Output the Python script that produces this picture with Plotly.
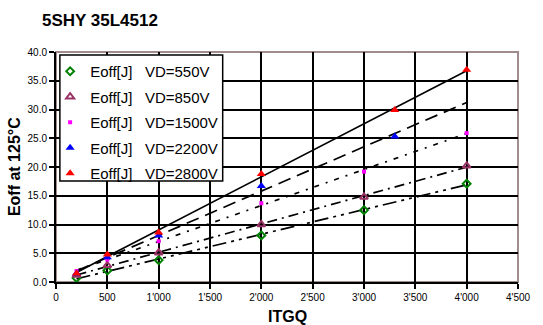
import numpy as np
import plotly.graph_objects as go

x_itgq = [200, 500, 1000, 2000, 3000, 4000]
x_2200 = [200, 500, 1000, 2000, 3300]
x_2800 = [200, 500, 1000, 2000, 3300, 4000]

e_550 = [0.7, 2.0, 3.8, 8.1, 12.5, 17.1]
e_850 = [1.2, 2.9, 5.1, 10.0, 14.8, 20.2]
e_1500 = [1.9, 3.9, 7.1, 13.7, 19.2, 25.9]
e_2200 = [1.5, 4.3, 8.1, 16.7, 25.3]
e_2800 = [1.5, 4.8, 8.6, 18.8, 29.9, 36.9]

names = ["Eoff[J]\u00a0\u00a0\u00a0VD=550V", "Eoff[J]\u00a0\u00a0\u00a0VD=850V",
         "Eoff[J]\u00a0\u00a0\u00a0VD=1500V", "Eoff[J]\u00a0\u00a0\u00a0VD=2200V",
         "Eoff[J]\u00a0\u00a0\u00a0VD=2800V"]

x_ticks = [0, 500, 1000, 1500, 2000, 2500, 3000, 3500, 4000, 4500]
x_ticktext = ["0", "500", "1'000", "1'500", "2'000", "2'500", "3'000", "3'500", "4'000", "4'500"]
trend_range = [200, 4000]

series = [
    (x_itgq, e_550, dict(symbol="diamond-open", size=6, color="#008000", line=dict(width=2, color="#008000")), "14px,5px,3px,5px,3px,5px"),
    (x_itgq, e_850, dict(symbol="triangle-up-open", size=7, color="#993366", line=dict(width=2, color="#993366")), "10px,5px,2px,5px"),
    (x_itgq, e_1500, dict(symbol="square", size=4, color="#FF00FF"), "5px,7px,2px,7px"),
    (x_2200, e_2200, dict(symbol="triangle-up", size=8, color="#0000FF"), "13px,7px"),
    (x_2800, e_2800, dict(symbol="triangle-up", size=8, color="#FF0000"), "solid"),
]

fig = go.Figure()

# trendlines (linear fit)
for xs, ys, mk, dash in series:
    p = np.polyfit(xs, ys, 1)
    tx = np.array(trend_range, dtype=float)
    fig.add_trace(go.Scatter(x=tx, y=np.polyval(p, tx), mode="lines",
                             line=dict(color="black", width=1.7, dash=dash),
                             showlegend=False, hoverinfo="skip"))

for i, (xs, ys, mk, dash) in enumerate(series):
    fig.add_trace(go.Scatter(x=xs, y=ys, mode="markers", marker=mk, name=names[i],
                             legendgroup=str(i)))

# plot-area border
fig.add_shape(type="rect", xref="paper", yref="paper", x0=0, x1=1, y0=0, y1=1,
              line=dict(color="#a08c8c", width=2), layer="below")
# legend box
fig.add_shape(type="rect", xref="paper", yref="paper", x0=0.0084, x1=0.3608,
              y0=0.439, y1=0.987, line=dict(color="black", width=1.5),
              fillcolor="white", layer="above")

font = "Liberation Sans, Arial, sans-serif"
fig.update_layout(
    width=543, height=325,
    margin=dict(l=56, r=13, t=52, b=43),
    paper_bgcolor="white", plot_bgcolor="white",
    font=dict(family=font, color="black"),
    showlegend=True,
    legend=dict(x=-0.0127, y=0.987, xanchor="left", yanchor="top",
                bgcolor="rgba(0,0,0,0)", borderwidth=0,
                font=dict(size=15, family=font), tracegroupgap=3,
                itemwidth=30),
    xaxis=dict(range=[0, 4500], tickvals=x_ticks, ticktext=x_ticktext,
               showgrid=True, gridcolor="black", gridwidth=1.8,
               showline=True, linecolor="black", linewidth=2,
               ticks="outside", ticklen=5, tickcolor="black", tickwidth=1.5,
               tickfont=dict(size=10), zeroline=False),
    yaxis=dict(range=[0, 40], dtick=5, tickformat=".1f",
               showgrid=True, gridcolor="black", gridwidth=1.8,
               showline=True, linecolor="black", linewidth=2,
               ticks="outside", ticklen=5, tickcolor="black", tickwidth=1.5,
               tickfont=dict(size=10), zeroline=False),
    annotations=[
        dict(text="<b>5SHY 35L4512</b>", xref="paper", yref="paper",
             x=-0.0338, y=1.139, xanchor="left", yanchor="middle",
             showarrow=False, font=dict(size=17)),
        dict(text="<b>Eoff at 125°C</b>", xref="paper", yref="paper",
             x=-0.0907, y=0.5, xanchor="center", yanchor="middle", textangle=-90,
             showarrow=False, font=dict(size=16)),
        dict(text="<b>ITGQ</b>", xref="paper", yref="paper",
             x=0.5, y=-0.148, xanchor="center", yanchor="middle",
             showarrow=False, font=dict(size=16)),
    ],
)

fig.write_html("out.html")
